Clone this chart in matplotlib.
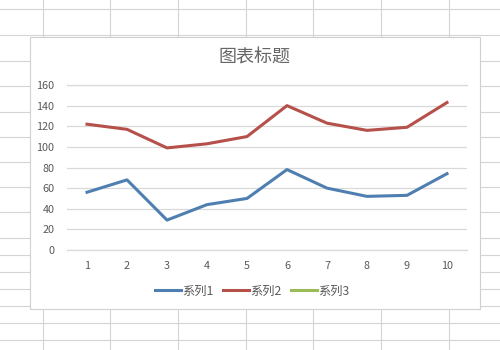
import matplotlib
matplotlib.use("Agg")
import matplotlib.pyplot as plt
from matplotlib.patches import Rectangle
from matplotlib.lines import Line2D

plt.rcParams['font.family'] = ['Noto Sans CJK SC', 'DejaVu Sans']

# 数据
categories = [1, 2, 3, 4, 5, 6, 7, 8, 9, 10]
series1 = [56, 68, 29, 44, 50, 78, 60, 52, 53, 74]
series2 = [122, 117, 99, 103, 110, 140, 123, 116, 119, 143]
series3 = []
series_names = ['系列1', '系列2', '系列3']
y_ticks = [0, 20, 40, 60, 80, 100, 120, 140, 160]
title = '图表标题'

W, H = 500, 350
fig = plt.figure(figsize=(5, 3.5), dpi=100)
fig.patch.set_facecolor('white')

# 背景的表格网格线 (像素坐标)
grid_col = '#d4d4d4'
for x in [43, 110, 178, 246, 313, 381, 449]:
    fig.add_artist(Line2D([x / W, x / W], [0, 1], color=grid_col, lw=0.8, zorder=-3))
for y in [9, 35, 61, 86, 112, 137, 162, 187, 212, 238, 255, 272, 289, 306, 323, 340]:
    fig.add_artist(Line2D([0, 1], [1 - y / H, 1 - y / H], color=grid_col, lw=0.8, zorder=-3))

# 图表区域
cl, ct, cr, cb = 30, 37, 480, 309
fig.add_artist(Rectangle((cl / W, 1 - cb / H), (cr - cl) / W, (cb - ct) / H,
                         facecolor='white', edgecolor='#d0d0d0', lw=0.8, zorder=-2))

# 绘图区
pl, pt, pr, pb = 67, 85, 467, 250
ax = fig.add_axes([pl / W, 1 - pb / H, (pr - pl) / W, (pb - pt) / H])
ax.set_zorder(1)
ax.set_facecolor('none')

ax.plot(categories, series1, color='#4f7fb0', lw=2.2, label=series_names[0], solid_joinstyle='round')
ax.plot(categories, series2, color='#b5504b', lw=2.2, label=series_names[1], solid_joinstyle='round')
ax.plot(series3, series3, color='#9bbb59', lw=2.2, label=series_names[2])

ax.set_xlim(0.5, 10.5)
ax.set_ylim(0, 160)
ax.set_yticks(y_ticks)
ax.set_xticks(categories)
ax.grid(axis='y', color='#d9d9d9', lw=0.9)
ax.axhline(0, color='#d9d9d9', lw=0.9, clip_on=False, zorder=0.5)
ax.axhline(160, color='#d9d9d9', lw=0.9, clip_on=False, zorder=0.5)
ax.set_axisbelow(True)
for s in ax.spines.values():
    s.set_visible(False)
ax.tick_params(axis='both', length=0, labelsize=7.8, labelcolor='#595959')
ax.tick_params(axis='y', pad=9)
ax.tick_params(axis='x', pad=8)

fig.text(255 / W, 1 - 58 / H, title, ha='center', va='center', fontsize=13, color='#666666')

fig.legend(loc='center', bbox_to_anchor=(252 / W, 1 - 291 / H), ncol=3, frameon=False,
           fontsize=8.8, handlelength=2.1, handletextpad=0.1, columnspacing=0.8,
           labelcolor='#595959')

fig.savefig('out.png', dpi=100, facecolor='white')
